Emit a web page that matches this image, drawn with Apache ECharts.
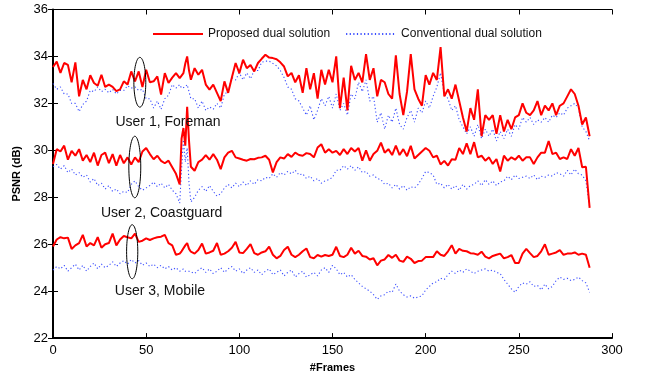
<!DOCTYPE html>
<html>
<head>
<meta charset="utf-8">
<script src="https://cdn.jsdelivr.net/npm/echarts@6/dist/echarts.min.js"></script>
<style>
  html, body { margin: 0; padding: 0; background: #fff; }
  #chart { width: 646px; height: 378px; }
</style>
</head>
<body>
<div id="chart"></div>
<script>
// frame index of every sample (extra odd frames around the spike near frame 70)
const frames = [
  0, 2, 4, 6, 8, 10, 12, 14, 16, 18,
  20, 22, 24, 26, 28, 30, 32, 34, 36, 38,
  40, 42, 44, 46, 48, 50, 52, 54, 56, 58,
  60, 62, 64, 66, 68, 69, 70, 71, 72, 73,
  74, 76, 78, 80, 82, 84, 86, 88, 90, 92,
  94, 96, 98, 100, 102, 104, 106, 108, 110, 112,
  114, 116, 118, 120, 122, 124, 126, 128, 130, 132,
  134, 136, 138, 140, 142, 144, 146, 148, 150, 152,
  154, 156, 158, 160, 162, 164, 166, 168, 170, 172,
  174, 176, 178, 180, 182, 184, 186, 188, 190, 192,
  194, 196, 198, 200, 202, 204, 206, 208, 210, 212,
  214, 216, 218, 220, 222, 224, 226, 228, 230, 232,
  234, 236, 238, 240, 242, 244, 246, 248, 250, 252,
  254, 256, 258, 260, 262, 264, 266, 268, 270, 272,
  274, 276, 278, 280, 282, 284, 286, 288
];

const foremanProposed = [
  33.55, 33.78, 33.3, 33.72, 33.64, 32.9, 33.75, 32.3, 33.0, 32.6,
  33.2, 32.87, 32.75, 33.22, 32.7, 32.8, 32.7, 32.52, 32.6, 32.94,
  32.8, 33.36, 32.94, 33.36, 32.7, 33.43, 32.9, 32.94, 33.15, 32.38,
  33.29, 32.87, 33.1, 33.29, 33.08, 33.1, 33.29, 33.7, 34.0, 33.4,
  33.01, 33.5, 33.22, 33.43, 32.8, 32.59, 32.8, 32.45, 32.1, 32.94,
  32.45, 33.1, 33.72, 33.29, 33.86, 33.5, 33.64, 33.36, 33.72, 33.9,
  34.07, 33.95, 33.93, 33.88, 33.75, 33.57, 33.15, 33.3, 32.9, 33.2,
  32.45, 33.5, 32.6, 33.29, 32.2, 33.43, 32.8, 33.43, 32.9, 34.0,
  31.8, 33.1, 31.7, 33.6, 33.0, 33.3, 32.9, 34.1, 33.0, 33.5,
  32.3, 33.0, 32.9, 32.4, 32.2, 34.05, 32.4, 31.5, 32.5, 34.1,
  32.6, 32.2, 31.9, 33.2, 32.8, 33.3, 33.0, 34.4, 32.3, 32.6,
  32.2, 32.8, 32.1, 31.4, 30.8, 31.8, 31.3, 32.6, 30.6, 31.5,
  31.3, 31.5, 30.7, 31.5, 30.8, 31.3, 30.9, 31.4, 31.5, 32.0,
  31.6, 31.5, 31.7, 32.1, 31.5, 31.9, 31.7, 32.0, 31.5, 31.9,
  32.0, 32.3, 32.6, 32.4, 31.9, 31.1, 31.4, 30.6
];

const foremanConventional = [
  32.85, 32.6, 32.7, 32.4, 32.4, 32.0, 32.0, 31.65, 31.95, 32.1,
  32.55, 32.5, 32.7, 32.5, 32.6, 32.45, 32.6, 32.4, 32.55, 32.55,
  32.75, 32.65, 32.7, 32.55, 32.6, 32.2, 32.2, 31.8, 32.1, 31.75,
  32.2, 32.35, 32.8, 32.65, 32.8, 32.65, 32.6, 32.7, 32.8, 32.5,
  32.2, 32.2, 31.8, 32.1, 31.7, 31.85, 31.75, 32.0, 31.8, 32.4,
  32.5, 33.1, 33.0, 33.3, 33.0, 33.3, 33.05, 33.4, 33.4, 33.75,
  33.8, 33.8, 33.7, 33.6, 33.4, 33.1, 32.7, 32.6, 32.2, 32.1,
  31.8, 31.5, 31.9, 31.3, 31.7, 32.2, 31.9, 32.3, 31.8, 32.4,
  31.7, 32.0, 31.5, 32.4, 32.2, 32.9, 32.5, 33.0, 32.1, 32.3,
  31.2, 31.6, 30.9, 31.5, 31.2, 31.8, 31.1, 30.9, 31.4, 31.7,
  31.2, 31.8, 31.6, 32.1, 31.8, 32.3, 32.7, 33.3, 32.4, 32.2,
  31.7, 31.9, 31.3, 31.0, 30.7, 31.0, 30.6, 31.1, 30.5, 30.9,
  30.6, 30.9, 30.4, 30.8, 30.5, 30.9, 30.6, 31.1, 30.9, 31.4,
  31.2, 31.4, 31.1, 31.3, 31.2, 31.4, 31.2, 31.5, 31.4, 31.6,
  31.5, 31.8, 31.9, 32.0, 31.8, 31.0, 30.8, 30.4
];

const coastguardProposed = [
  29.42, 30.05, 29.95, 30.2, 29.6, 29.98, 29.77, 30.05, 29.56, 29.8,
  29.5, 29.9, 29.35, 29.8, 29.9, 29.45, 29.84, 29.35, 29.8, 29.45,
  29.7, 29.4, 29.7, 29.5, 29.95, 30.1, 29.84, 29.62, 29.77, 29.55,
  29.45, 29.56, 29.28, 29.0, 28.55, 30.5, 30.95, 30.2, 31.85, 30.4,
  29.3, 29.13, 29.5, 29.6, 29.8, 29.6, 29.84, 29.6, 29.2, 29.7,
  29.9, 29.98, 29.7, 29.65, 29.6, 29.56, 29.63, 29.62, 29.68, 29.7,
  29.77, 29.6, 29.06, 29.5, 29.7, 29.65, 29.84, 29.72, 29.9, 29.8,
  29.77, 29.88, 29.84, 29.7, 30.12, 30.26, 29.9, 30.05, 29.9, 29.98,
  29.8, 30.05, 29.84, 30.1, 29.95, 30.1, 29.56, 30.0, 29.56, 29.84,
  29.98, 30.33, 29.9, 30.05, 29.8, 30.2, 29.8, 30.05, 29.75, 30.19,
  29.65, 29.8, 29.95, 30.1, 29.98, 29.7, 29.77, 29.4, 29.55, 29.35,
  29.62, 29.6, 30.1, 29.84, 30.3, 29.84, 30.35, 29.7, 29.77, 29.56,
  29.7, 29.42, 29.63, 29.1, 29.77, 29.56, 29.7, 29.6, 29.77, 29.56,
  29.7, 29.7, 29.42, 29.7, 29.9, 29.9, 30.4, 29.84, 29.9, 29.63,
  29.7, 29.63, 30.05, 29.77, 30.1, 29.28, 29.3, 27.55
];

const coastguardConventional = [
  29.3, 29.4, 29.2, 29.35, 29.05, 29.2, 28.95, 29.05, 28.85, 28.95,
  28.65, 28.8, 28.5, 28.6, 28.35, 28.5, 28.25, 28.35, 28.15, 28.25,
  28.2, 28.55, 28.7, 28.45, 28.3, 28.4, 28.5, 28.65, 28.45, 28.6,
  28.4, 28.55, 28.3, 28.15, 27.75, 29.2, 30.45, 29.5, 30.1, 28.6,
  27.8, 28.0, 28.3, 28.45, 28.25, 28.5, 28.25, 28.05, 28.15, 28.4,
  28.55, 28.4, 28.6, 28.45, 28.65, 28.5, 28.7, 28.55, 28.75, 28.7,
  28.85, 28.8, 29.0, 28.85, 29.05, 28.95, 29.1, 29.0, 29.15, 28.95,
  29.0, 28.8, 28.9, 28.7, 28.8, 28.6, 28.7, 28.75, 28.85, 29.15,
  29.15, 29.35, 29.2, 29.35, 29.15, 29.3, 29.05, 29.1, 28.9, 28.95,
  28.8, 28.75, 28.55, 28.6, 28.4, 28.55, 28.35, 28.5, 28.3, 28.45,
  28.4, 28.55, 28.8, 29.1, 29.05, 28.95, 28.55, 28.6, 28.4, 28.55,
  28.35, 28.5, 28.3, 28.55, 28.35, 28.5, 28.55, 28.7, 28.5, 28.75,
  28.55, 28.7, 28.5, 28.65, 28.7, 28.9, 28.75, 28.95, 28.8, 28.85,
  28.9, 28.8, 28.95, 28.75, 28.9, 28.85, 28.95, 28.9, 29.05, 29.0,
  28.9, 29.15, 28.95, 29.2, 29.0, 28.95, 28.7, 27.6
];

const mobileProposed = [
  25.9, 26.2, 26.3, 26.25, 26.28, 25.8, 25.95, 26.05, 26.4, 25.9,
  26.05, 25.95, 26.3, 25.85, 26.0, 26.05, 26.45, 25.95, 26.2, 26.35,
  26.3, 26.25, 26.45, 26.1, 26.15, 26.25, 26.18, 26.25, 26.3, 26.32,
  26.4, 26.05, 25.95, 25.55, 25.6, 25.7, 25.75, 25.95, 26.05, 25.8,
  25.68, 25.6, 25.75, 26.03, 25.6, 25.65, 25.72, 26.05, 25.55, 25.6,
  25.7, 25.85, 26.1, 25.65, 25.62, 25.8, 26.0, 25.62, 25.55, 25.65,
  25.7, 25.9, 25.55, 25.4, 25.5, 25.75, 25.89, 25.55, 25.45, 25.55,
  25.7, 25.82, 25.45, 25.4, 25.54, 25.47, 25.54, 25.5, 25.55, 25.89,
  25.5, 25.45, 25.55, 25.85, 25.6, 25.72, 25.5, 25.47, 25.35, 25.4,
  25.1, 25.3, 25.35, 25.54, 25.42, 25.55, 25.3, 25.25, 25.47, 25.38,
  25.2, 25.28, 25.3, 25.45, 25.45, 25.45, 25.7, 25.55, 25.5, 25.7,
  25.96, 25.6, 25.8, 25.72, 25.7, 25.62, 25.6, 25.55, 25.68, 25.47,
  25.4, 25.5, 25.55, 25.6, 25.4, 25.45, 25.54, 25.2, 25.2, 25.6,
  25.8, 25.62, 25.45, 25.5, 25.7, 26.0, 25.55, 25.6, 25.65, 25.75,
  25.55, 25.6, 25.6, 25.65, 25.55, 25.6, 25.55, 25.0
];

const mobileConventional = [
  24.9, 25.05, 24.95, 25.1, 24.85, 25.0, 25.15, 24.9, 25.1, 24.85,
  25.05, 25.2, 24.95, 25.15, 25.0, 25.1, 25.25, 25.05, 25.2, 25.3,
  25.15, 25.35, 25.2, 25.3, 25.1, 25.2, 25.05, 25.15, 25.0, 25.1,
  24.95, 25.05, 24.9, 25.0, 24.85, 24.9, 24.95, 24.85, 24.8, 24.85,
  24.9, 24.75, 24.9, 25.0, 24.8, 24.95, 24.75, 24.85, 25.0, 24.8,
  24.95, 25.05, 24.85, 24.95, 24.75, 24.9, 25.0, 24.8, 24.9, 24.7,
  24.85, 24.95, 24.7, 24.8, 24.9, 24.65, 24.8, 24.9, 24.6, 24.75,
  24.85, 24.6, 24.7, 24.8, 24.65, 24.9, 25.0, 24.8, 25.1, 24.95,
  24.7, 24.8, 24.6, 24.7, 24.5, 24.35, 24.2, 24.1, 24.0, 23.85,
  23.65, 23.8, 23.85, 24.0, 23.95, 24.3, 24.0, 23.85, 23.75, 23.8,
  23.7, 23.75, 23.8, 24.05, 24.2, 24.35, 24.4, 24.55, 24.5, 24.7,
  24.85, 24.75, 24.9, 24.8, 24.95, 24.85, 24.75, 24.85, 24.9, 24.95,
  24.85, 24.9, 24.8, 24.75, 24.5, 24.3, 24.1, 23.95, 24.2, 24.35,
  24.3, 24.4, 24.2, 24.25, 24.05, 24.3, 24.1, 24.2, 24.45, 24.6,
  24.5, 24.55, 24.45, 24.5, 24.6, 24.45, 24.35, 23.95
];

// annotations (in data units: frame, dB)
const userLabels = ['User 1, Foreman', 'User 2, Coastguard', 'User 3, Mobile'];
const labelFrames = [61.7, 58.3, 57.4];
const labelDb = [31.18, 27.33, 23.99];
const ellipseFrames = [46.6, 43.9, 42.5];
const ellipseDb = [32.9, 29.29, 25.68];
const ellipseHalfFrames = [3.2, 3.2, 3.0];
const ellipseHalfDb = [1.06, 1.31, 1.15];

const FONT = '"Liberation Sans", Arial, Helvetica, sans-serif';
const RED = '#ff0000';
const BLUE = '#3a4dff';

function pairs(values) {
  return frames.map((f, i) => [f, values[i]]);
}

function conventional(values) {
  return {
    name: 'Conventional dual solution',
    type: 'line',
    data: pairs(values),
    symbol: 'none',
    showSymbol: false,
    lineStyle: { color: BLUE, width: 1.1, type: [1.2, 2.4] },
    itemStyle: { color: BLUE },
    z: 2
  };
}

function proposed(values) {
  return {
    name: 'Proposed dual solution',
    type: 'line',
    data: pairs(values),
    symbol: 'none',
    showSymbol: false,
    lineStyle: { color: RED, width: 2 },
    itemStyle: { color: RED },
    z: 3
  };
}

function mirrorAxis(position, min, max, interval) {
  return {
    type: 'value',
    position: position,
    min: min,
    max: max,
    interval: interval,
    axisLine: { show: true, lineStyle: { color: '#000', width: 1 } },
    axisTick: { show: true, inside: true, length: 5, lineStyle: { color: '#000' } },
    axisLabel: { show: false },
    splitLine: { show: false }
  };
}

const chart = echarts.init(document.getElementById('chart'));

chart.setOption({
  animation: false,
  backgroundColor: '#fff',
  textStyle: { fontFamily: FONT },
  grid: { left: 53, right: 34, top: 9.5, bottom: 37.5, containLabel: false },
  legend: {
    data: ['Proposed dual solution', 'Conventional dual solution'],
    left: 147,
    top: 23,
    itemWidth: 50,
    itemHeight: 14,
    itemGap: 15,
    itemStyle: { opacity: 0 },
    textStyle: { fontSize: 12, color: '#111', fontFamily: FONT }
  },
  xAxis: [
    {
      type: 'value',
      position: 'bottom',
      min: 0,
      max: 300,
      interval: 50,
      name: '#Frames',
      nameLocation: 'middle',
      nameGap: 22,
      nameTextStyle: { fontSize: 11, fontWeight: 'bold', color: '#000', fontFamily: FONT },
      axisLine: { lineStyle: { color: '#000', width: 2 } },
      axisTick: { inside: true, length: 5, lineStyle: { color: '#000' } },
      axisLabel: { color: '#000', fontSize: 13, margin: 6, fontFamily: FONT },
      splitLine: { show: false }
    },
    mirrorAxis('top', 0, 300, 50)
  ],
  yAxis: [
    {
      type: 'value',
      position: 'left',
      min: 22,
      max: 36,
      interval: 2,
      name: 'PSNR (dB)',
      nameLocation: 'middle',
      nameGap: 26,
      nameRotate: 90,
      nameTextStyle: { fontSize: 11, fontWeight: 'bold', color: '#000', fontFamily: FONT },
      axisLine: { show: true, lineStyle: { color: '#000', width: 2 } },
      axisTick: { show: true, inside: true, length: 5, lineStyle: { color: '#000' } },
      axisLabel: { color: '#000', fontSize: 13, margin: 5, fontFamily: FONT },
      splitLine: { show: false }
    },
    mirrorAxis('right', 22, 36, 2)
  ],
  series: [
    conventional(foremanConventional),
    conventional(coastguardConventional),
    conventional(mobileConventional),
    proposed(foremanProposed),
    proposed(coastguardProposed),
    proposed(mobileProposed)
  ]
});

// place the ellipses and user labels through the axes
function toPx(x, y) {
  return chart.convertToPixel({ xAxisIndex: 0, yAxisIndex: 0 }, [x, y]);
}

const graphics = [];
ellipseFrames.forEach((f, i) => {
  const c = toPx(f, ellipseDb[i]);
  const e = toPx(f + ellipseHalfFrames[i], ellipseDb[i] + ellipseHalfDb[i]);
  graphics.push({
    type: 'ellipse',
    shape: { cx: c[0], cy: c[1], rx: Math.abs(e[0] - c[0]), ry: Math.abs(c[1] - e[1]) },
    style: { fill: 'none', stroke: '#000', lineWidth: 1 },
    z: 10
  });
});
userLabels.forEach((t, i) => {
  const p = toPx(labelFrames[i], labelDb[i]);
  graphics.push({
    type: 'text',
    x: p[0],
    y: p[1],
    style: {
      text: t,
      fill: '#111',
      font: '14px ' + FONT,
      textAlign: 'center',
      textVerticalAlign: 'middle'
    },
    z: 10
  });
});
chart.setOption({ graphic: graphics });
</script>
</body>
</html>
